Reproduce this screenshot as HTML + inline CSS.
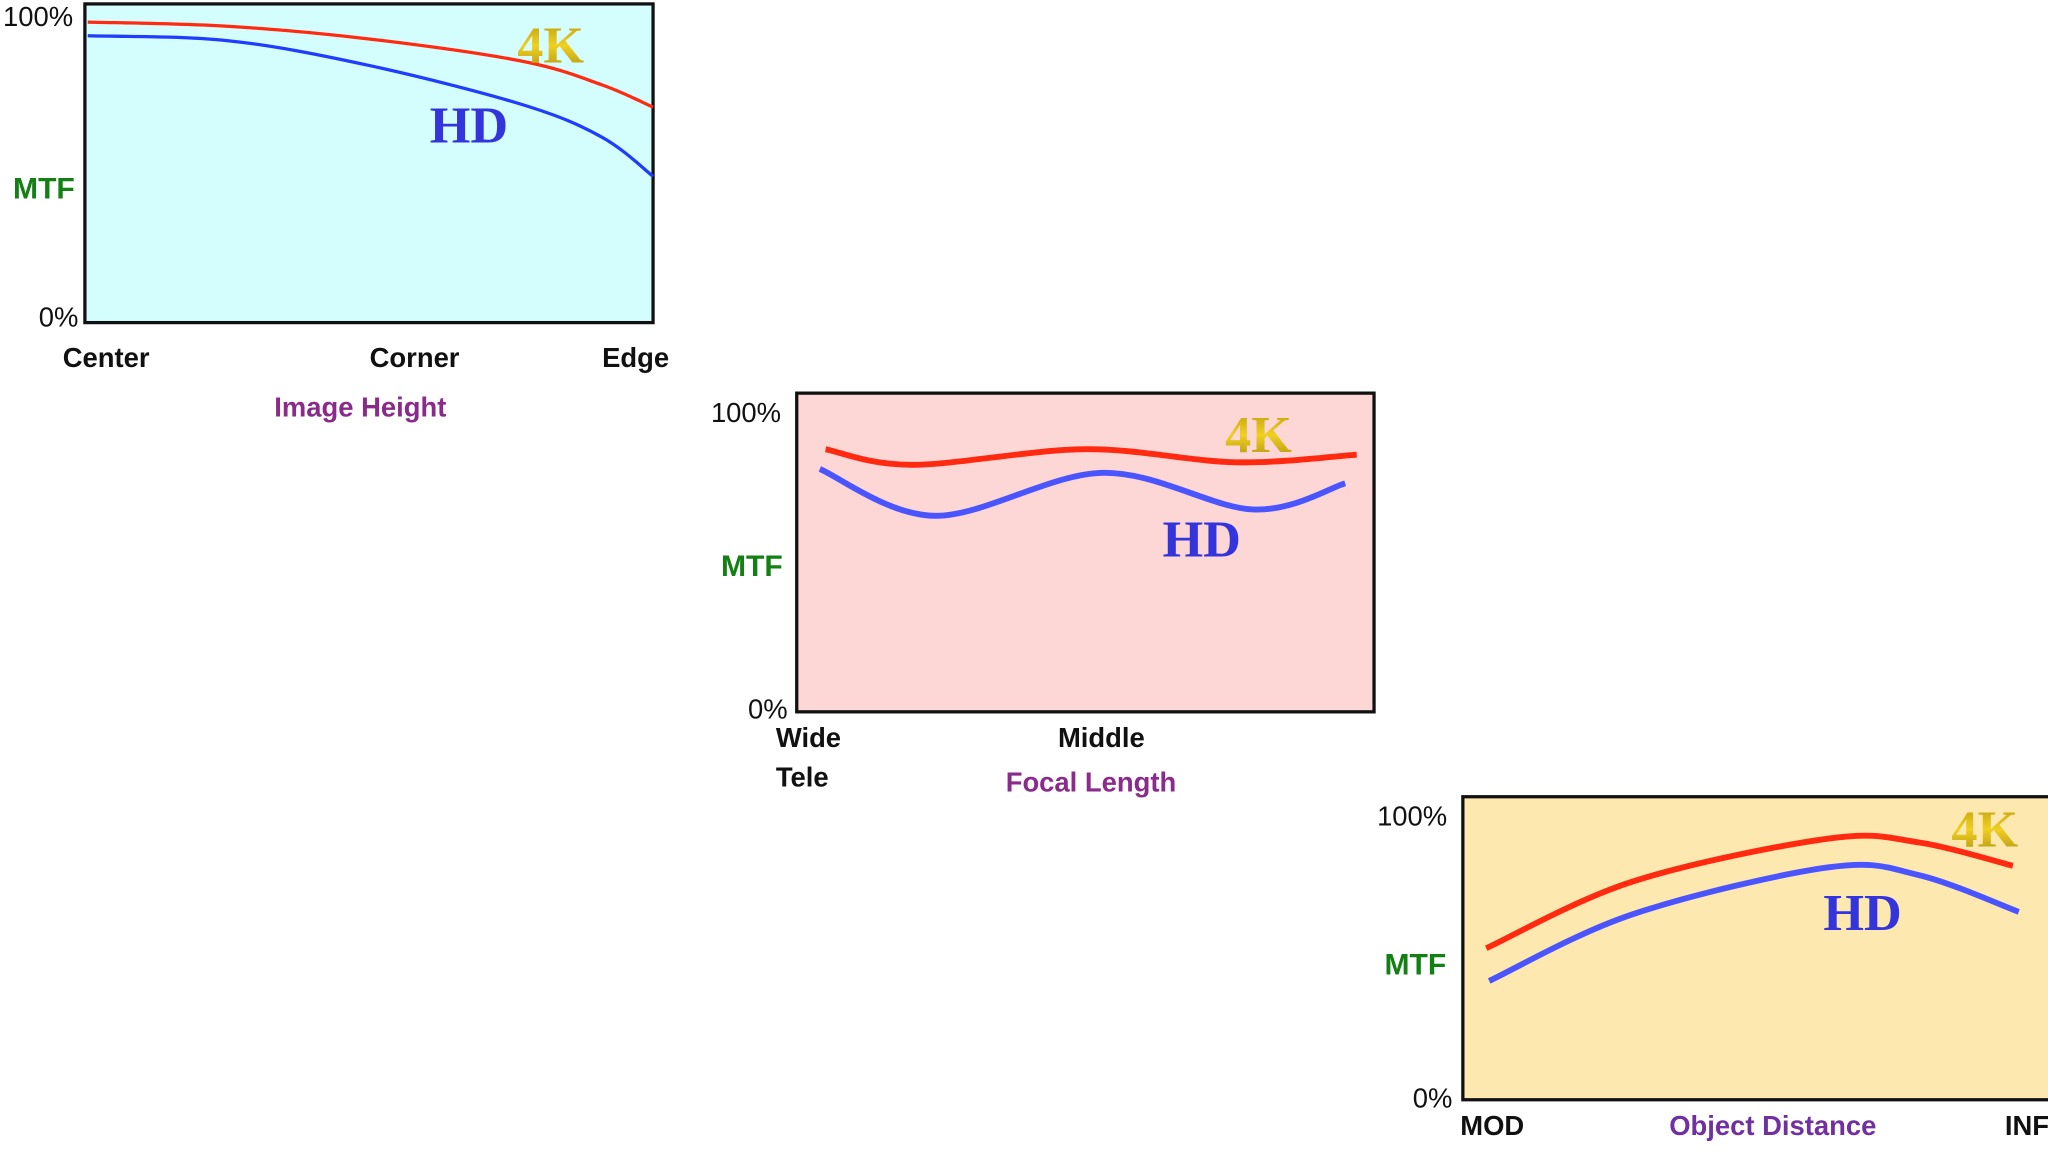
<!DOCTYPE html>
<html><head><meta charset="utf-8"><style>
html,body{margin:0;padding:0;background:#fff;width:2048px;height:1152px;overflow:hidden}
svg{display:block}
.tick{font-family:"Liberation Sans",sans-serif;font-size:21px;fill:#111}
.cat{font-family:"Liberation Sans",sans-serif;font-size:21px;font-weight:bold;fill:#111}
.mtf{font-family:"Liberation Sans",sans-serif;font-size:23px;font-weight:bold;fill:#138013}
.xt{font-family:"Liberation Sans",sans-serif;font-size:21px;font-weight:bold}
.k4{font-family:"Liberation Serif",serif;font-size:40px;font-weight:bold;fill:url(#gold)}
.hd{font-family:"Liberation Serif",serif;font-size:40px;font-weight:bold;fill:#3434dc}
</style></head><body>
<svg id="svg" width="2048" height="1152" viewBox="0 0 1568 882" xmlns="http://www.w3.org/2000/svg">
<defs>
<linearGradient id="gold" x1="0" y1="0" x2="0" y2="1"><stop offset="0" stop-color="#b8960a"/><stop offset="0.5" stop-color="#f0d020"/><stop offset="1" stop-color="#a88a10"/></linearGradient>
</defs>
<g id="c1">
<rect x="65" y="3" width="435" height="244" fill="#d4fefe" stroke="#111" stroke-width="2.5"/>
<text class="tick" x="56" y="20" text-anchor="end">100%</text>
<text class="tick" x="60" y="250" text-anchor="end">0%</text>
<text class="mtf" x="10" y="152">MTF</text>
<text class="cat" x="48" y="281">Center</text>
<text class="cat" x="283" y="281">Corner</text>
<text class="cat" x="461" y="281">Edge</text>
<text class="xt" x="210" y="319" fill="#8a2a8a">Image  Height</text>
<text class="k4" x="396" y="48">4K</text>
<text class="hd" x="329" y="109">HD</text>
</g>
<g id="c2">
<rect x="610" y="301" width="442" height="244" fill="#fdd6d6" stroke="#111" stroke-width="2.5"/>
<text class="tick" x="598" y="323" text-anchor="end">100%</text>
<text class="tick" x="603" y="550" text-anchor="end">0%</text>
<text class="mtf" x="552" y="441">MTF</text>
<text class="cat" x="594" y="572">Wide</text>
<text class="cat" x="594" y="602">Tele</text>
<text class="cat" x="810" y="572">Middle</text>
<text class="xt" x="770" y="606" fill="#8a2a8a">Focal Length</text>
<text class="k4" x="938" y="346">4K</text>
<text class="hd" x="890" y="426">HD</text>
</g>
<g id="c3">
<rect x="1120" y="610" width="460" height="232" fill="#fde8b0" stroke="#111" stroke-width="2.5"/>
<text class="tick" x="1108" y="632" text-anchor="end">100%</text>
<text class="tick" x="1112" y="848" text-anchor="end">0%</text>
<text class="mtf" x="1060" y="746">MTF</text>
<text class="cat" x="1118" y="869">MOD</text>
<text class="cat" x="1535" y="869">INF</text>
<text class="xt" x="1278" y="869" fill="#7030a0">Object Distance</text>
<text class="k4" x="1494" y="648">4K</text>
<text class="hd" x="1396" y="712">HD</text>
</g>
</svg>
<script>
// x positions as fraction of axis span, values as MTF fraction (0..1)
const x1 = [0.005, 0.25, 0.5, 0.77, 0.91, 1.0];
const k4_1 = [0.943, 0.93, 0.89, 0.82, 0.746, 0.676];
const hd_1 = [0.90, 0.885, 0.807, 0.684, 0.582, 0.459];
const x2 = [0.05, 0.2, 0.5, 0.76, 0.97];
const k4_2 = [0.824, 0.775, 0.824, 0.783, 0.807];
const x2h = [0.04, 0.24, 0.53, 0.79, 0.95];
const hd_2 = [0.762, 0.615, 0.75, 0.635, 0.717];
const x3 = [0.04, 0.29, 0.625, 0.78, 0.94];
const k4_3 = [0.5, 0.72, 0.862, 0.849, 0.772];
const x3h = [0.045, 0.29, 0.625, 0.78, 0.95];
const hd_3 = [0.392, 0.612, 0.767, 0.741, 0.62];

const charts = [
 {g:'c1', L:65, W:435, B:247, H:244, series:[[x1,k4_1,'#ff2a10','line-4k-1'],[x1,hd_1,'#1f3cff','line-hd-1']], sw:2.5},
 {g:'c2', L:610, W:442, B:545, H:244, series:[[x2,k4_2,'#ff2a10','line-4k-2'],[x2h,hd_2,'#4a55ff','line-hd-2']], sw:4.5},
 {g:'c3', L:1120, W:448, B:842, H:232, series:[[x3,k4_3,'#ff2a10','line-4k-3'],[x3h,hd_3,'#4a55ff','line-hd-3']], sw:4.5}
];
function path(pts){
  let d='M'+pts[0][0]+','+pts[0][1];
  for(let i=0;i<pts.length-1;i++){
    const p0=pts[i-1]||pts[i],p1=pts[i],p2=pts[i+1],p3=pts[i+2]||p2;
    const c1x=p1[0]+(p2[0]-p0[0])/6,c1y=p1[1]+(p2[1]-p0[1])/6;
    const c2x=p2[0]-(p3[0]-p1[0])/6,c2y=p2[1]-(p3[1]-p1[1])/6;
    d+=' C'+c1x+','+c1y+' '+c2x+','+c2y+' '+p2[0]+','+p2[1];
  }
  return d;
}
charts.forEach(c=>{
  const g=document.getElementById(c.g);
  const xs=f=>c.L+f*c.W, ys=v=>c.B-v*c.H;
  c.series.forEach(s=>{
    const pts=s[0].map((f,i)=>[xs(f),ys(s[1][i])]);
    const p=document.createElementNS('http://www.w3.org/2000/svg','path');
    p.setAttribute('d',path(pts));
    p.setAttribute('fill','none');
    p.setAttribute('stroke',s[2]);
    p.setAttribute('stroke-width',c.sw);
    
    
    g.insertBefore(p,g.children[1]);
  });
});
</script>
</body></html>
